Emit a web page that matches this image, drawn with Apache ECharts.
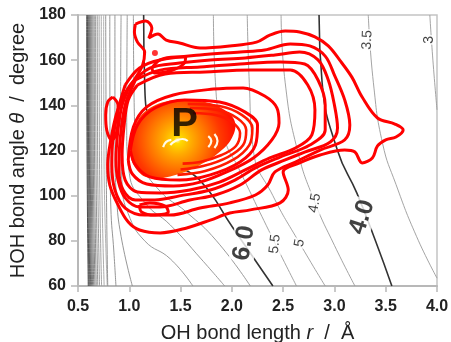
<!DOCTYPE html>
<html>
<head>
<meta charset="utf-8">
<script src="https://cdn.jsdelivr.net/npm/echarts@6/dist/echarts.min.js"></script>
<style>
html, body { margin: 0; padding: 0; background: #fff; }
#chart { width: 451px; height: 342px; }
</style>
</head>
<body>
<div id="chart"></div>
<script>
var FONT = '"Liberation Sans", Arial, Helvetica, sans-serif';

// axis ticks
var xTicks = [0.5, 1.0, 1.5, 2.0, 2.5, 3.0, 3.5, 4.0];
var yTicks = [60, 80, 100, 120, 140, 160, 180];

// repulsive wall lines: r at theta = 180, 120, 60
var wallTop = [0.585, 0.592, 0.600, 0.608, 0.616, 0.625, 0.635, 0.646, 0.658, 0.672, 0.688, 0.706, 0.727, 0.750];
var wallMid = [0.588, 0.595, 0.603, 0.611, 0.619, 0.628, 0.638, 0.649, 0.661, 0.675, 0.691, 0.709, 0.730, 0.753];
var wallBot = [0.600, 0.607, 0.615, 0.623, 0.632, 0.642, 0.653, 0.665, 0.678, 0.693, 0.710, 0.730, 0.755, 0.785];

// potential energy contours (r, theta)
var curve1 = [[0.77, 180], [0.775, 120], [0.78, 90], [0.79, 60]];
var curve2 = [[0.81, 180], [0.812, 120], [0.82, 95], [0.85, 75], [0.87, 60]];
var curve3 = [[0.86, 180], [0.86, 120], [0.875, 100], [0.92, 82], [1.03, 60]];
var curve4 = [[0.92, 180], [0.915, 130], [0.93, 105], [0.99, 92], [1.15, 80], [1.40, 72], [1.62, 60]];
var curve5 = [[0.98, 180], [0.975, 130], [1.0, 110], [1.15, 97], [1.40, 87], [1.70, 72], [1.93, 60]];
var curve6 = [[1.04, 180], [1.05, 135], [1.12, 115], [1.30, 102], [1.55, 93], [1.85, 80], [2.18, 60]];
var pes60 = [[1.14, 180], [1.15, 150], [1.22, 130], [1.40, 116], [1.69, 106.7], [2.01, 85.8], [2.40, 60]];
var pes55 = [[1.82, 180], [1.84, 150], [1.93, 125], [2.06, 112.7], [2.42, 79], [2.63, 60]];
var pes50 = [[2.15, 180], [2.17, 150], [2.21, 120], [2.40, 100], [2.66, 79], [2.91, 60]];
var pes45 = [[2.48, 180], [2.52, 150], [2.64, 120], [2.81, 97], [3.0, 78], [3.2, 60]];
var pes40 = [[2.85, 180], [2.88, 150], [3.03, 120], [3.22, 101], [3.40, 80], [3.56, 60]];
var pes35 = [[3.33, 180], [3.38, 150], [3.47, 123], [3.6, 105], [3.8, 82], [4.0, 63.5]];
var pes30 = [[3.93, 180], [3.96, 160], [4.0, 138]];

// contour level labels
var levelText = ['6.0', '5.5', '5', '4.5', '4.0', '3.5', '3'];
var levelR = [2.12, 2.42, 2.66, 2.81, 3.27, 3.32, 3.92];
var levelT = [79, 78.6, 79, 96.8, 90.5, 169, 169];

// red probability density contours
var redOuter = [[1.06, 176], [1.16, 177.3], [1.22, 174.2], [1.19, 169.8], [1.28, 171.6], [1.36, 168.9], [1.49, 167.6],
  [1.69, 165.4], [1.98, 166.3], [2.24, 168], [2.37, 171.1], [2.52, 172.9], [2.66, 172.5], [2.81, 170.3], [2.94, 166.3],
  [3.05, 160.1], [3.17, 152.5], [3.27, 143.7], [3.42, 134.4], [3.59, 131.7], [3.67, 129.1], [3.60, 126], [3.50, 124.7],
  [3.42, 122], [3.37, 116.7], [3.27, 114.5], [3.2, 119.3], [3.10, 120.2], [2.86, 118], [2.66, 114.5], [2.50, 110.5],
  [2.55, 102.5], [2.47, 96.8], [2.18, 93.7], [1.98, 92.3], [1.79, 89.2], [1.56, 85.7], [1.30, 83.5], [1.10, 84.8],
  [0.99, 88.3], [0.89, 95.9], [0.81, 104.7], [0.79, 113.6], [0.82, 124.7], [0.88, 137], [0.96, 145.5], [1.06, 152.1],
  [1.13, 157.9], [1.15, 163.6], [1.08, 168], [1.05, 172.5]];
var redBand2 = [[0.96, 149.0], [1.10, 156.5], [1.30, 160.1], [1.69, 162.3], [2.08, 163.6], [2.32, 164.5], [2.57, 167.2],
  [2.76, 166.3], [2.91, 161.8], [3.00, 153.4], [3.10, 142.4], [3.15, 131.3], [3.10, 124.7], [2.86, 120.2], [2.62, 114.9],
  [2.42, 110.5], [2.35, 104.7], [2.23, 100.3], [1.98, 96.8], [1.69, 94.5], [1.40, 91.4], [1.15, 91.4], [0.96, 94.5],
  [0.86, 102.5], [0.83, 113.6], [0.84, 124.7], [0.89, 137.9]];
var redBand3 = [[1.01, 149.0], [1.20, 156.5], [1.49, 158.7], [1.79, 160.1], [2.13, 161.0], [2.42, 162.3], [2.66, 163.6],
  [2.84, 160.1], [2.94, 151.2], [3.00, 140.1], [3.03, 130.0], [2.96, 123.8], [2.71, 119.3], [2.52, 115.8], [2.29, 111.4],
  [2.08, 104.7], [1.84, 100.3], [1.59, 98.1], [1.30, 95.0], [1.10, 95.0], [0.96, 99.0], [0.89, 106.9], [0.87, 115.8],
  [0.89, 129.1], [0.93, 140.1]];
var redBand4 = [[1.06, 151.2], [1.30, 155.6], [1.69, 157.0], [2.08, 158.3], [2.47, 159.2], [2.71, 158.3], [2.84, 151.2],
  [2.91, 140.1], [2.91, 129.1], [2.76, 122.4], [2.47, 117.1], [2.23, 112.3], [2.03, 106.9], [1.79, 102.5], [1.49, 99.9],
  [1.25, 98.1], [1.06, 98.1], [0.94, 102.5], [0.90, 111.4], [0.91, 124.7], [0.96, 140.1]];
var redBand5 = [[1.08, 149.0], [1.35, 153.9], [1.74, 154.8], [2.18, 155.6], [2.57, 155.6], [2.74, 149.0], [2.81, 137.9],
  [2.78, 126.9], [2.62, 121.1], [2.37, 116.7], [2.13, 111.4], [1.88, 106.0], [1.59, 102.5], [1.30, 101.2], [1.08, 101.6],
  [0.96, 106.9], [0.93, 118.0], [0.95, 131.3], [0.99, 142.4]];
var redMiddle = [[0.99, 115.8], [1.04, 130.4], [1.17, 139.3], [1.43, 144.6], [1.82, 147.2], [2.11, 147.7], [2.32, 144.1],
  [2.44, 138.8], [2.46, 132.2], [2.39, 124.7], [2.21, 116.7], [1.95, 110.5], [1.69, 106.0], [1.43, 104.3], [1.17, 105.2],
  [1.03, 109.6]];
var redInnerA = [[1.01, 120.2], [1.08, 131.3], [1.25, 138.8], [1.54, 142.4], [1.88, 141.5], [2.13, 137.0], [2.25, 131.3],
  [2.23, 122.4], [2.08, 114.9], [1.79, 109.2], [1.49, 106.9], [1.20, 108.3], [1.06, 113.6]];
// right-hand arcs of the stacked inner contours
var redInnerB = [[1.57, 140.6], [1.88, 139.7], [2.10, 135.7], [2.20, 130.0], [2.17, 122.4], [2.01, 115.8], [1.74, 110.9], [1.47, 109.2]];
var redInnerC = [[1.59, 138.8], [1.86, 137.9], [2.05, 134.4], [2.14, 129.1], [2.11, 122.4], [1.96, 117.1], [1.72, 113.1], [1.50, 111.6]];
var redInnerD = [[1.62, 136.6], [1.84, 135.7], [2.00, 132.6], [2.08, 127.7], [2.04, 122.0], [1.90, 118.0], [1.69, 114.9], [1.52, 114.2]];
var redSmallTop = [[1.22, 156.5], [1.30, 160.1], [1.45, 161.4], [1.55, 161.4], [1.53, 158.3], [1.40, 155.2], [1.25, 154.3]];
var redSmallLeft = [[0.84, 143.7], [0.89, 140.1], [0.89, 133.5], [0.87, 126.9], [0.83, 124.7], [0.78, 129.1], [0.77, 135.7], [0.79, 141.5]];
var redSmallLow = [[1.10, 95.9], [1.20, 96.8], [1.35, 95.4], [1.38, 92.8], [1.25, 91.4], [1.12, 92.8]];
var redDot = [1.25, 163.2];

// filled high-density core
var blobEdge = [[1.01, 120.2], [1.06, 131.3], [1.20, 138.8], [1.45, 142.4], [1.74, 141.5], [1.93, 137.9], [2.03, 132.6],
  [2.00, 125.5], [1.88, 119.3], [1.69, 113.6], [1.45, 109.2], [1.20, 107.8], [1.06, 112.3]];
var blobPeak = [1.47, 124.6];
var whiteArc1 = [[1.40, 122.4], [1.45, 124.2], [1.52, 125.1], [1.57, 124.2]];
var whiteArc2 = [[1.33, 121.5], [1.36, 123.8], [1.41, 124.7]];
var whiteArc3 = [[1.77, 126.4], [1.80, 124.2], [1.77, 121.5]];
var whiteArc4 = [[1.83, 127.3], [1.86, 124.2], [1.83, 121.1]];
var peakPos = [1.54, 131.4];

var chart = echarts.init(document.getElementById('chart'));

function lineSeries(data, color, width, z, smooth) {
  return {
    type: 'line', data: data, symbol: 'none', showSymbol: false, smooth: smooth,
    lineStyle: { color: color, width: width }, z: z, silent: true, animation: false, clip: true
  };
}
function closeLoop(pts) { return pts.concat([pts[0]]); }

var series = [];

// wall lines: darker toward the wall
for (var i = 0; i < wallTop.length; i++) {
  var g = Math.round(60 + 110 * i / (wallTop.length - 1));
  var col = 'rgb(' + g + ',' + g + ',' + g + ')';
  series.push(lineSeries([[wallTop[i], 180], [wallMid[i], 120], [wallBot[i], 60]], col, 0.9, 2, true));
}
[curve1, curve2, curve3].forEach(function (c) { series.push(lineSeries(c, '#8a8a8a', 0.9, 2, true)); });
[curve4, curve5, curve6].forEach(function (c) { series.push(lineSeries(c, '#8f8f8f', 0.9, 2, true)); });
[pes55, pes50, pes45, pes35, pes30].forEach(function (c) { series.push(lineSeries(c, '#9a9a9a', 0.9, 2, true)); });
series.push(lineSeries(pes60, '#333', 1.6, 2, true));
series.push(lineSeries(pes40, '#333', 1.6, 2, true));

// core fill
series.push({
  type: 'custom', z: 3, silent: true, animation: false,
  data: [blobPeak],
  renderItem: function (params, api) {
    var pts = blobEdge.map(function (p) { return api.coord(p); });
    var c = api.coord(blobPeak);
    return {
      type: 'polygon',
      shape: { points: pts, smooth: 0.4 },
      style: {
        fill: new echarts.graphic.RadialGradient(c[0], c[1], 58, [
          { offset: 0, color: '#fff4c0' },
          { offset: 0.06, color: '#ffdc00' },
          { offset: 0.25, color: '#ffaa00' },
          { offset: 0.5, color: '#ff7200' },
          { offset: 0.75, color: '#ff3800' },
          { offset: 1, color: '#ff1000' }
        ], true)
      }
    };
  }
});

[redOuter, redBand2, redBand3, redBand4, redBand5, redMiddle, redInnerA,
 redSmallTop, redSmallLeft, redSmallLow].forEach(function (c) {
  series.push(lineSeries(closeLoop(c), '#ff0000', 3, 4, 0.35));
});
[redInnerB, redInnerC, redInnerD].forEach(function (c) {
  series.push(lineSeries(c, '#ff1a00', 2.6, 4, 0.35));
});
[whiteArc1, whiteArc2, whiteArc3, whiteArc4].forEach(function (c) {
  series.push(lineSeries(c, '#fffbe8', 2.2, 5, true));
});
series.push({
  type: 'scatter', z: 4, silent: true, animation: false, symbolSize: 6,
  itemStyle: { color: '#ff0000' }, data: [redDot]
});

// labels
var labelRot = [80, 84, 80, 80, 72, 88, 90];
var labelSize = [25, 14, 14, 14, 25, 14, 14];
series.push({
  type: 'scatter', z: 6, silent: true, animation: false, symbolSize: 1,
  itemStyle: { color: 'rgba(0,0,0,0)' },
  data: levelText.map(function (t, i) {
    return {
      value: [levelR[i], levelT[i]],
      label: {
        show: true, position: 'inside', formatter: t, rotate: labelRot[i],
        fontSize: labelSize[i], fontWeight: labelSize[i] > 20 ? 'bold' : 'normal',
        color: '#111', fontFamily: FONT, backgroundColor: '#fff', padding: [0, 1]
      }
    };
  })
});
series.push({
  type: 'scatter', z: 7, silent: true, animation: false, symbolSize: 1,
  itemStyle: { color: 'rgba(0,0,0,0)' },
  data: [{
    value: peakPos,
    label: { show: true, position: 'inside', formatter: 'P', fontSize: 40, fontWeight: 'bold', color: '#000', fontFamily: FONT }
  }]
});

var titleRich = {
  a: { fontSize: 20, color: '#222', fontFamily: FONT },
  i: { fontSize: 20, color: '#222', fontStyle: 'italic', fontFamily: FONT }
};

var option = {
  animation: false,
  backgroundColor: '#fff',
  grid: { left: 78, right: 14, top: 15, bottom: 56, show: true, borderColor: '#c4c4c4', borderWidth: 1.5,
    outerBoundsMode: 'none', containLabel: false },
  xAxis: {
    type: 'value', min: xTicks[0], max: xTicks[xTicks.length - 1], interval: xTicks[1] - xTicks[0],
    name: '{a|OH bond length }{i|r}{a|  /  Å}', nameLocation: 'middle', nameGap: 37,
    nameTextStyle: { rich: titleRich },
    axisLine: { show: true, onZero: false, lineStyle: { color: '#b8b8b8', width: 2 } },
    axisTick: { show: true, length: 6, lineStyle: { color: '#b8b8b8', width: 1.5 } },
    axisLabel: { color: '#222', fontSize: 16, fontWeight: 'bold', fontFamily: FONT, margin: 13,
      formatter: function (v) { return v.toFixed(1); } },
    splitLine: { show: false }
  },
  yAxis: {
    type: 'value', min: yTicks[0], max: yTicks[yTicks.length - 1], interval: yTicks[1] - yTicks[0],
    name: '{a|HOH bond angle }{i|θ}{a|  /  degree}', nameLocation: 'middle', nameGap: 46,
    nameTextStyle: { rich: titleRich },
    axisLine: { show: true, onZero: false, lineStyle: { color: '#b8b8b8', width: 2 } },
    axisTick: { show: true, length: 7, lineStyle: { color: '#b8b8b8', width: 1.5 } },
    axisLabel: { color: '#222', fontSize: 16, fontWeight: 'bold', fontFamily: FONT, margin: 12 },
    splitLine: { show: false }
  },
  series: series
};
chart.setOption(option);
</script>
</body>
</html>
